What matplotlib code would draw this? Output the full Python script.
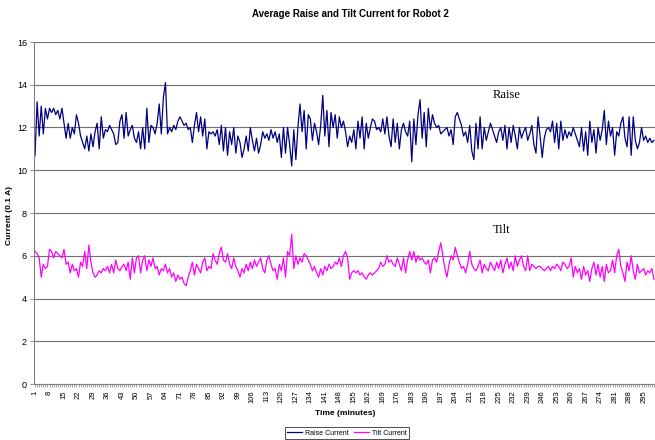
import matplotlib
matplotlib.use("Agg")
import matplotlib.pyplot as plt
import numpy as np

raise_current = [
    10.7, 13.2, 11.6, 13.0, 11.7, 12.9, 12.4, 12.9, 12.7, 12.9,
    12.6, 12.8, 12.4, 12.9, 12.2, 11.5, 12.2, 11.5, 12.0, 11.7,
    12.6, 12.2, 11.6, 11.3, 11.0, 11.6, 10.9, 11.7, 11.1, 11.8,
    12.2, 11.0, 12.5, 11.5, 11.9, 11.8, 12.1, 11.9, 11.7, 11.2,
    11.3, 12.3, 12.6, 11.5, 12.7, 11.6, 11.9, 12.1, 11.5, 11.3,
    11.8, 11.0, 12.0, 11.0, 12.9, 11.3, 12.1, 12.0, 11.7, 12.2,
    13.1, 11.7, 13.4, 14.1, 11.7, 12.0, 11.8, 12.1, 11.9, 12.3,
    12.5, 12.3, 12.1, 12.2, 11.9, 12.0, 11.3, 12.1, 12.7, 11.8,
    12.5, 11.6, 12.4, 11.0, 11.8, 11.7, 11.8, 11.6, 11.9, 11.2,
    12.1, 10.9, 12.0, 10.7, 11.8, 11.2, 12.0, 10.8, 11.6, 11.3,
    10.6, 11.0, 11.6, 10.9, 12.0, 11.4, 10.9, 11.5, 10.8, 11.2,
    11.8, 11.5, 11.7, 11.4, 11.9, 11.5, 11.8, 11.3, 11.7, 10.6,
    12.0, 10.8, 12.0, 11.2, 10.2, 11.9, 10.5, 12.0, 13.1, 11.8,
    12.8, 11.0, 12.6, 12.4, 11.4, 12.2, 11.8, 11.2, 12.1, 13.5,
    11.6, 12.8, 11.1, 12.7, 12.0, 12.6, 11.5, 12.5, 12.0, 12.3,
    11.8, 11.1, 11.6, 11.3, 11.9, 11.0, 12.3, 11.5, 12.5, 11.0,
    12.2, 11.5, 12.0, 12.4, 12.3, 11.9, 12.0, 11.8, 12.4, 11.7,
    12.5, 11.6, 11.1, 12.4, 11.3, 12.2, 11.0, 11.9, 12.2, 11.8,
    11.6, 12.3, 10.4, 12.4, 11.2, 12.6, 13.3, 11.5, 12.7, 11.1,
    12.9, 11.9, 12.6, 12.2, 12.0, 12.1, 11.7, 11.8, 11.9, 12.0,
    11.6, 11.9, 11.2, 12.5, 12.7, 12.4, 12.1, 11.6, 11.8, 11.3,
    12.1, 10.9, 10.5, 12.2, 11.0, 12.5, 11.0, 12.0, 11.4, 11.8,
    12.2, 11.9, 11.6, 11.3, 11.8, 12.0, 11.4, 12.1, 11.0, 12.0,
    11.3, 12.1, 11.6, 11.0, 12.0, 11.5, 11.8, 12.0, 11.4, 11.7,
    12.1, 11.2, 10.8, 12.5, 11.6, 10.6, 11.5, 11.9, 12.0, 11.8,
    12.3, 11.3, 12.2, 11.0, 12.3, 11.4, 11.9, 11.5, 11.8, 11.6,
    12.0, 11.7, 11.4, 11.1, 12.0, 10.9, 11.8, 10.7, 12.3, 11.3,
    11.9, 10.8, 12.0, 11.4, 11.9, 12.8, 11.2, 12.3, 11.6, 12.0,
    10.7, 11.8, 11.6, 12.2, 12.5, 11.5, 11.1, 12.5, 10.7, 12.5,
    11.4, 11.0, 11.3, 12.0, 11.4, 11.6, 11.3, 11.5, 11.3, 11.4,
]

tilt_current = [
    6.2, 6.1, 5.9, 5.0, 5.6, 5.4, 5.5, 6.3, 6.2, 5.9,
    6.2, 6.1, 6.0, 5.9, 6.3, 5.6, 5.7, 5.2, 5.6, 5.3,
    5.4, 5.0, 5.7, 5.5, 6.2, 5.4, 6.5, 5.7, 5.2, 5.0,
    5.1, 5.3, 5.2, 5.4, 5.3, 5.5, 5.2, 5.6, 5.2, 5.8,
    5.4, 5.3, 5.5, 5.6, 5.3, 5.7, 4.9, 5.9, 5.2, 5.9,
    6.0, 5.2, 5.8, 6.0, 5.3, 5.8, 5.5, 5.9, 5.4, 5.5,
    5.1, 5.4, 5.3, 5.6, 5.2, 5.4, 5.0, 5.2, 4.8, 5.1,
    4.9, 5.0, 4.7, 4.6, 5.0, 5.3, 5.7, 5.1, 5.6, 5.4,
    5.2, 5.7, 5.9, 5.3, 5.5, 5.4, 6.1, 5.8, 5.6, 6.1,
    6.4, 5.8, 5.7, 6.1, 5.6, 5.4, 5.9, 5.5, 5.3, 5.0,
    5.4, 5.2, 5.6, 5.3, 5.7, 5.4, 5.8, 5.5, 5.7, 5.9,
    5.4, 5.2, 5.8, 6.0, 5.6, 5.3, 5.4, 4.9, 5.6, 5.3,
    5.9, 5.0, 6.2, 6.0, 7.0, 5.4, 6.0, 5.6, 5.9, 5.7,
    6.1, 6.0, 5.8, 5.6, 5.3, 5.5, 5.2, 5.0, 5.4, 5.1,
    5.5, 5.3, 5.6, 5.4, 5.5, 5.7, 5.6, 5.9, 5.5, 6.0,
    6.2, 5.9, 4.9, 5.2, 5.3, 5.2, 5.3, 5.1, 5.2, 5.0,
    4.9, 5.1, 5.2, 5.1, 5.2, 5.3, 5.4, 5.7, 5.5, 5.6,
    6.0, 5.7, 5.8, 5.6, 5.5, 5.9, 5.6, 5.3, 5.9, 5.2,
    5.8, 6.2, 5.8, 6.2, 5.7, 6.0, 5.8, 5.9, 5.7, 5.6,
    5.8, 5.2, 5.8, 5.9, 5.7, 6.2, 6.6, 6.0, 5.4, 5.0,
    5.6, 6.0, 5.8, 6.4, 6.0, 5.7, 5.4, 5.5, 5.2, 5.6,
    6.2, 5.6, 5.4, 5.3, 5.5, 5.8, 5.2, 5.6, 5.4, 5.3,
    5.7, 5.5, 5.3, 5.7, 5.4, 5.8, 5.2, 5.6, 5.9, 5.4,
    5.7, 5.3, 6.0, 5.5, 5.8, 6.0, 5.5, 5.3, 6.0, 5.3,
    5.6, 5.5, 5.4, 5.5, 5.5, 5.4, 5.3, 5.4, 5.5, 5.3,
    5.5, 5.4, 5.6, 5.5, 5.3, 5.7, 5.6, 5.4, 5.5, 5.9,
    5.0, 5.5, 5.2, 5.4, 4.9, 5.5, 5.1, 5.3, 4.8, 5.4,
    5.7, 5.1, 5.6, 5.0, 5.5, 4.8, 5.6, 5.2, 5.3, 5.8,
    5.2, 6.0, 6.3, 5.5, 5.2, 4.8, 5.7, 5.3, 6.0, 5.3,
    4.9, 5.6, 5.2, 5.3, 5.4, 5.1, 5.3, 5.2, 5.4, 4.9,
]

minutes = list(range(1, len(raise_current) + 1))
tick_labels = [str(m) for m in range(1, 300, 7)]
y_ticks = [0, 2, 4, 6, 8, 10, 12, 14, 16]

plt.rcParams['font.family'] = ['Liberation Sans', 'DejaVu Sans']

fig = plt.figure(figsize=(6.55, 4.4), dpi=100)
ax = fig.add_axes([34 / 655, 56 / 440, 621 / 655, 342 / 440])

ax.plot(minutes, raise_current, color='#000080', lw=0.9, label='Raise Current')
ax.plot(minutes, tilt_current, color='#FF00FF', lw=0.9, label='Tilt Current')

ax.set_xlim(0.5, len(minutes) + 0.5)
ax.set_ylim(0, 16)
ax.set_yticks(y_ticks)
ax.set_yticklabels([str(v) for v in y_ticks], fontsize=6.5)
ax.yaxis.grid(True, color='#707070', lw=0.8)
ax.set_axisbelow(True)

ax.set_xticks([int(t) for t in tick_labels])
ax.set_xticklabels(tick_labels, rotation=90, fontsize=5.5)
ax.set_xticks(minutes, minor=True)
ax.tick_params(axis='x', which='both', length=2.5, width=0.5, color='#808080', pad=2)
ax.tick_params(axis='y', length=3, width=0.6, color='#808080', pad=2)

for s in ['top', 'right']:
    ax.spines[s].set_visible(False)
for s in ['left', 'bottom']:
    ax.spines[s].set_color('#808080')
    ax.spines[s].set_linewidth(0.8)

fig.text(350 / 655, 1 - 14 / 440, 'Average Raise and Tilt Current for Robot 2',
         ha='center', va='center', fontsize=7, fontweight='bold')
fig.text(10 / 655, 1 - 215 / 440, 'Current (0.1 A)', rotation=90,
         ha='center', va='center', fontsize=6, fontweight='bold')
fig.text(345 / 655, 1 - 413 / 440, 'Time (minutes)', ha='center', va='center',
         fontsize=6, fontweight='bold')

ax.text(222, 13.5, 'Raise', family='Liberation Serif', fontsize=9, ha='left', va='center')
ax.text(222, 7.2, 'Tilt', family='Liberation Serif', fontsize=9, ha='left', va='center')

leg = fig.legend(loc='center', bbox_to_anchor=(347 / 655, 1 - 433 / 440), ncol=2,
                 fontsize=5, frameon=True, fancybox=False, edgecolor='black',
                 handlelength=2.2, columnspacing=0.8, handletextpad=0.4,
                 borderpad=0.3)
leg.get_frame().set_linewidth(0.6)

fig.savefig('out.png', dpi=100)
